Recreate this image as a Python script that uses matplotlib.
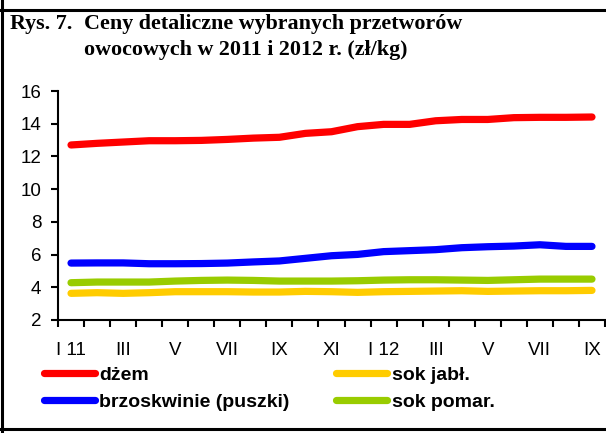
import numpy as np
import matplotlib
matplotlib.use("Agg")
import matplotlib.pyplot as plt

# months I 2011 .. IX 2012
months = ["I 11", "II", "III", "IV", "V", "VI", "VII", "VIII", "IX", "X", "XI", "XII",
          "I 12", "II", "III", "IV", "V", "VI", "VII", "VIII", "IX"]

dzem = [12.70, 12.80, 12.88, 12.96, 12.96, 12.98, 13.04, 13.12, 13.17, 13.41, 13.51,
        13.82, 13.96, 13.96, 14.18, 14.26, 14.26, 14.37, 14.39, 14.39, 14.41]
brzoskwinie = [5.48, 5.49, 5.49, 5.44, 5.44, 5.45, 5.48, 5.55, 5.61, 5.77, 5.93,
               6.01, 6.18, 6.24, 6.30, 6.42, 6.48, 6.52, 6.60, 6.50, 6.50]
sok_jabl = [3.63, 3.67, 3.63, 3.67, 3.73, 3.73, 3.73, 3.71, 3.71, 3.75, 3.73,
            3.69, 3.73, 3.75, 3.77, 3.79, 3.75, 3.77, 3.79, 3.79, 3.81]
sok_pomar = [4.28, 4.32, 4.32, 4.32, 4.38, 4.42, 4.44, 4.42, 4.38, 4.38, 4.38,
             4.40, 4.44, 4.46, 4.46, 4.44, 4.42, 4.46, 4.50, 4.50, 4.50]

series = [("dżem", dzem, "#ff0000"),
          ("brzoskwinie (puszki)", brzoskwinie, "#0000ff"),
          ("sok jabł.", sok_jabl, "#ffcc00"),
          ("sok pomar.", sok_pomar, "#99cc00")]

fig = plt.figure(figsize=(6.06, 4.33), dpi=100)
ax = fig.add_axes([58 / 606, 1 - 320 / 433, 547 / 606, 229 / 433])

x = np.arange(len(months))
for name, vals, col in series:
    ax.plot(x, vals, color=col, lw=5.2, label=name,
            solid_capstyle="round", solid_joinstyle="round")

ax.set_xlim(-0.5, len(months) - 0.5)
ax.set_ylim(2, 16)
ax.set_yticks(range(2, 17, 2))

# tick marks between months, labels on every second month
ax.set_xticks(np.arange(-0.5, len(months)), [""] * (len(months) + 1))
ax.set_xticks(x[::2], months[::2], minor=True)
ax.tick_params(axis="x", which="major", direction="out", length=5, width=1.5, color="black")
ax.tick_params(axis="x", which="minor", length=0, pad=16)
ax.tick_params(axis="y", direction="out", length=5, width=1.5, pad=7)
for lab in ax.get_xticklabels(minor=True) + ax.get_yticklabels():
    lab.set_fontfamily("Liberation Sans")
    lab.set_fontsize(13.5)

for s in ["top", "right"]:
    ax.spines[s].set_visible(False)
for s in ["left", "bottom"]:
    ax.spines[s].set_linewidth(1.5)

# title
tkw = dict(family="Liberation Serif", weight="bold", fontsize=15.8, va="baseline")
fig.text(10 / 606, 1 - 29 / 433, "Rys. 7.", **tkw)
fig.text(84 / 606, 1 - 29 / 433, "Ceny detaliczne wybranych przetworów", **tkw)
fig.text(84 / 606, 1 - 55 / 433, "owocowych w 2011 i 2012 r. (zł/kg)", **tkw)

leg = fig.legend(loc="upper left", bbox_to_anchor=(44 / 606, 1 - 366 / 433), ncol=2,
                 frameon=False, handlelength=2.6, handletextpad=0.25,
                 columnspacing=2.4, labelspacing=0.5, borderpad=0, borderaxespad=0,
                 prop={"family": "Liberation Sans", "weight": "bold", "size": 14})

# outer frame
fig.add_artist(plt.Line2D([1.5 / 606, 1.5 / 606], [0, 1], color="black", lw=2.2))
fig.add_artist(plt.Line2D([0, 1], [1 - 10 / 433, 1 - 10 / 433], color="black", lw=2.2))
fig.add_artist(plt.Line2D([0, 1], [1 - 429 / 433, 1 - 429 / 433], color="black", lw=2.2))

fig.savefig("out.png", dpi=100)
